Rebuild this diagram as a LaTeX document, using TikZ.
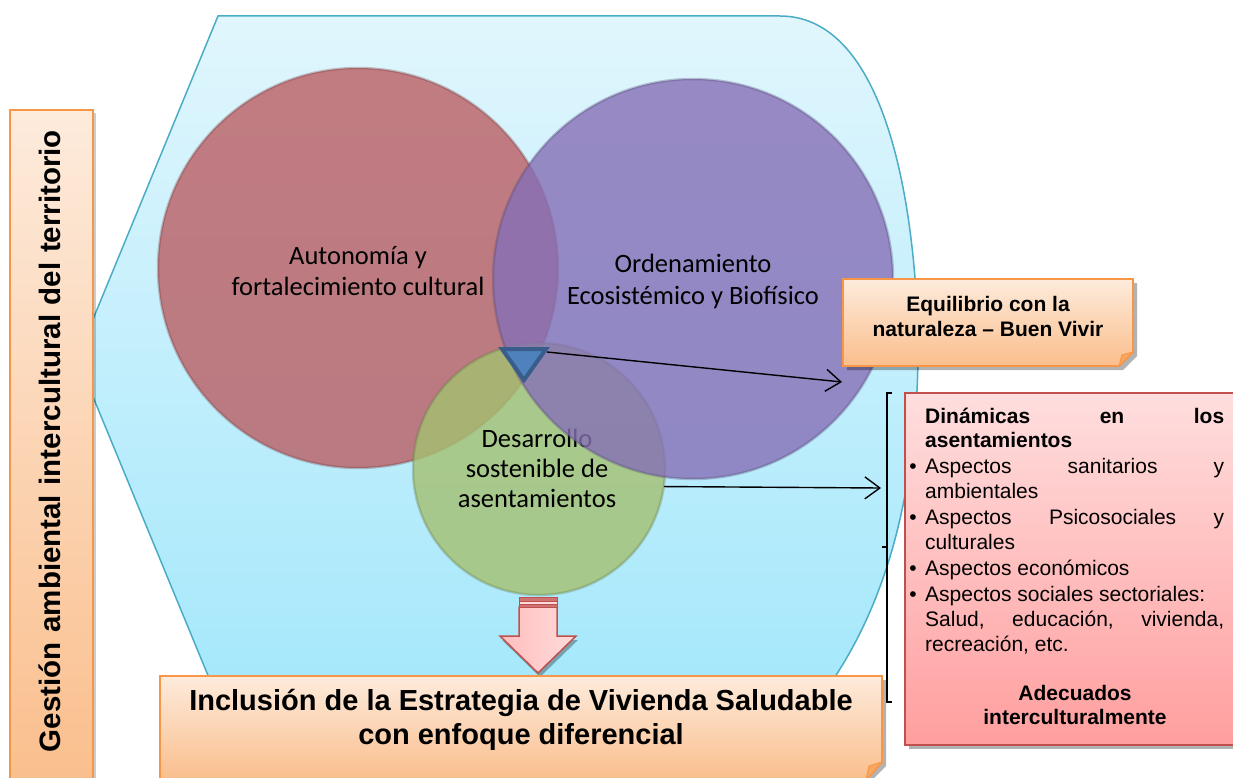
\documentclass[tikz,border=0pt]{standalone}
\usepackage{fontspec}
\setmainfont{Liberation Sans}
\newfontfamily\calfont{Carlito}
\usetikzlibrary{arrows.meta}
\definecolor{orgB}{RGB}{247,150,70}
\definecolor{peachT}{RGB}{253,235,220}
\definecolor{peachB}{RGB}{250,190,140}
\definecolor{redB}{RGB}{192,80,77}
\definecolor{pinkT}{RGB}{255,222,222}
\definecolor{pinkB}{RGB}{255,158,158}
\definecolor{bluT}{RGB}{225,246,253}
\definecolor{bluB}{RGB}{165,232,251}
\definecolor{bluE}{RGB}{75,172,198}
\definecolor{cRed}{RGB}{186,94,99}
\definecolor{cPur}{RGB}{134,111,182}
\definecolor{cGrn}{RGB}{164,192,112}
\definecolor{triF}{RGB}{79,129,189}
\definecolor{triE}{RGB}{56,93,138}
\definecolor{arrP}{RGB}{255,190,190}
\definecolor{arrL}{RGB}{255,218,218}
\begin{document}
\begin{tikzpicture}[x=1pt,y=-1pt,
  conn/.style={draw=black,line width=1.4pt,-{Straight Barb[length=15pt,width=22pt,line width=1.4pt]}},
  bubble/.style={circle,inner sep=0pt,outer sep=0pt,fill opacity=0.8,line width=2.5pt,draw opacity=0.3},
  ctext/.style={font=\calfont\fontsize{26.5}{31}\selectfont,align=center,text=black},
  boxtext/.style={font=\fontsize{21}{25}\selectfont,anchor=base west,inner sep=0pt},
  shadowc/.style={fill=black,opacity=0.3}
]
\useasboundingbox (0,0) rectangle (1233,778);

% big light-blue background shape
\path[top color=bluT,bottom color=bluB,draw=bluE,line width=1.5pt]
  (218,16) -- (780,16) .. controls (872,16) and (912,160) .. (918,330)
  .. controls (920,480) and (890,600) .. (826,690) -- (214,690) -- (77,358) -- cycle;

% left vertical box
\fill[shadowc,opacity=0.2] (13,113) rectangle (96,790);
\path[top color=peachT,bottom color=peachB,draw=orgB,line width=2pt] (10,110) rectangle (93,790);
\node[rotate=90,font=\fontsize{29.5}{34}\selectfont\bfseries,inner sep=0pt] (gest) at (50,441)
  {\makebox[622pt][s]{Gestión ambiental intercultural del territorio}};

% circles
\node[bubble,minimum size=400pt,fill=cRed,draw=cRed!60!black] (red) at (358,268) {};
\node[ctext] (redt) at (358,271) {Autonomía y\\fortalecimiento cultural};
\node[bubble,minimum size=252pt,fill=cGrn,draw=cGrn!60!black] (grn) at (539,469) {};
\node[ctext,font=\calfont\fontsize{26.5}{30}\selectfont] (grnt) at (537,468) {Desarrollo\\sostenible de\\asentamientos};
\node[bubble,minimum size=400pt,fill=cPur,draw=cPur!60!black] (pur) at (693,279) {};
\node[ctext,font=\calfont\fontsize{26.5}{32}\selectfont] (purt) at (693,281) {Ordenamiento\\Ecosistémico y Biofísico};

% triangle
\draw[triE,fill=triF,line width=4pt,line join=miter] (502,349) -- (546,349) -- (524,380) -- cycle;
\coordinate (triR) at (547,352);

% Equilibrio box
\fill[shadowc] (847,283) -- (1137,283) -- (1137,356) -- (1123,370) -- (847,370) -- cycle;
\path[top color=peachT,bottom color=peachB,draw=orgB,line width=1.8pt]
  (843,279) -- (1133,279) -- (1133,352) -- (1119,366) -- (843,366) -- cycle;
\path[fill=orgB!60!peachB,draw=orgB,line width=1pt] (1133,352) -- (1119,366) -- (1122,355) -- cycle;
\node[font=\fontsize{21}{25}\selectfont\bfseries,align=center] (eq) at (988,316) {Equilibrio con la\\naturaleza – Buen Vivir};

% connectors
\coordinate (eqIn) at (842,382);
\draw[conn] (triR) -- (eqIn);
\coordinate (brIn) at (881,488);
\draw[conn] (grn.-8.7) -- (brIn);

% bracket
\coordinate (bt) at (887,393);
\coordinate (bb) at (887,702);
\coordinate (bm) at (887,547);
\draw[line width=1.4pt] (bt) ++(5,0) -- (bt) -- (bb) -- ++(5,0);
\draw[line width=1.4pt] (bm) -- ++(-5,0);

% red box
\fill[shadowc] (909,397) rectangle (1250,749);
\path[top color=pinkT,bottom color=pinkB,draw=redB,line width=1.8pt] (905,393) rectangle (1245,745);
\node[boxtext] (l1) at (925,423) {\makebox[299pt][s]{\bfseries Dinámicas en los}};
\node[boxtext] (l2) at (925,447) {\bfseries asentamientos};
\node[boxtext,anchor=base] (b1) at (913,473) {•};
\node[boxtext] (l3) at (925,473) {\makebox[299pt][s]{Aspectos sanitarios y}};
\node[boxtext] (l4) at (925,498) {ambientales};
\node[boxtext,anchor=base] (b2) at (913,524) {•};
\node[boxtext] (l5) at (925,524) {\makebox[299pt][s]{Aspectos Psicosociales y}};
\node[boxtext] (l6) at (925,549) {culturales};
\node[boxtext,anchor=base] (b3) at (913,575) {•};
\node[boxtext] (l7) at (925,575) {Aspectos económicos};
\node[boxtext,anchor=base] (b4) at (913,601) {•};
\node[boxtext] (l8) at (925,601) {Aspectos sociales sectoriales:};
\node[boxtext] (l9) at (925,626) {\makebox[299pt][s]{Salud, educación, vivienda,}};
\node[boxtext] (l10) at (925,651) {recreación, etc.};
\node[font=\fontsize{21}{24}\selectfont\bfseries,align=center] (ade) at (1075,705) {Adecuados\\interculturalmente};

% down arrow
\fill[shadowc] (502,640) -- (578,640) -- (540,677) -- cycle;
\path[left color=arrP,right color=arrL,draw=redB,line width=1.5pt,line join=miter]
  (519,607) -- (557,607) -- (557,636) -- (576,636) -- (538,673) -- (500,636) -- (519,636) -- cycle;
\path[fill=redB!80,draw=redB,line width=1pt] (519,597) rectangle (557,601);
\path[fill=arrL,draw=redB,line width=1pt] (519,601) rectangle (557,604);
\path[fill=redB!80,draw=redB,line width=1pt] (519,604) rectangle (557,607);

% bottom box
\fill[shadowc] (164,680) -- (886,680) -- (886,766) -- (870,782) -- (164,782) -- cycle;
\path[top color=peachT,bottom color=peachB,draw=orgB,line width=1.8pt]
  (160,676) -- (882,676) -- (882,762) -- (866,780) -- (160,780) -- cycle;
\path[fill=orgB!60!peachB,draw=orgB,line width=1pt] (882,762) -- (866,780) -- (869,766) -- cycle;
\node[font=\fontsize{29}{34}\selectfont\bfseries,align=center] (incl) at (521,720)
  {Inclusión de la Estrategia de Vivienda Saludable\\con enfoque diferencial};
\end{tikzpicture}
\end{document}
